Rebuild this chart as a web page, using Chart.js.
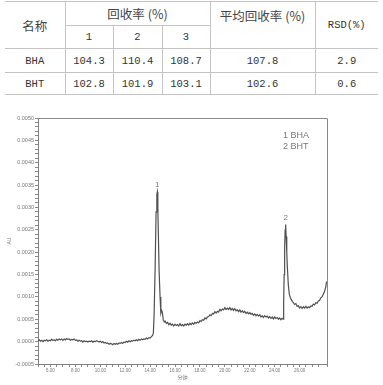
<!DOCTYPE html>
<html><head><meta charset="utf-8">
<script src="https://cdn.jsdelivr.net/npm/chart.js@4/dist/chart.umd.min.js"></script>
<style>
html,body{margin:0;padding:0;background:#fff;width:383px;height:385px;overflow:hidden;}
#tbl{position:absolute;left:5px;top:1px;width:373px;border-collapse:collapse;table-layout:fixed;font-family:"Liberation Mono",monospace;font-size:10.5px;color:#333;}
#tbl td{border:1px solid #c4c4c4;text-align:center;vertical-align:middle;padding:0;}
#tbl td.nl{border-left:none;}
#tbl td.nr{border-right:none;}
#tbl td.top{vertical-align:top;padding-top:4px;}
.cjk{font-family:"Noto Sans CJK SC",sans-serif;font-size:12.5px;color:#444;}
#wrap{position:absolute;left:0;top:100px;width:383px;height:285px;}
</style></head>
<body>
<table id="tbl">
<colgroup><col style="width:60px"><col style="width:48px"><col style="width:49px"><col style="width:48px"><col style="width:105px"><col style="width:63px"></colgroup>
<tbody id="tb"></tbody>
</table>
<div id="wrap"><canvas id="c" width="383" height="285"></canvas></div>
<script>
// ---- table data ----
const compounds = ['BHA', 'BHT'];
const recovery1 = ['104.3', '102.8'];
const recovery2 = ['110.4', '101.9'];
const recovery3 = ['108.7', '103.1'];
const recoveryMean = ['107.8', '102.6'];
const rsd = ['2.9', '0.6'];

// ---- chromatogram data (time in min, absorbance in AU) ----
const times = [
 5.0,5.1,5.2,5.3,5.4,5.5,5.6,5.7,5.8,5.9,
 6.0,6.1,6.2,6.3,6.4,6.5,6.6,6.7,6.8,6.9,
 7.0,7.1,7.2,7.3,7.4,7.5,7.6,7.7,7.8,7.9,
 8.0,8.1,8.2,8.3,8.4,8.5,8.6,8.7,8.8,8.9,
 9.0,9.1,9.2,9.3,9.4,9.5,9.6,9.7,9.8,9.9,
 10.0,10.1,10.2,10.3,10.4,10.5,10.6,10.7,10.8,10.9,
 11.0,11.1,11.2,11.3,11.4,11.5,11.6,11.7,11.8,11.9,
 12.0,12.1,12.2,12.3,12.4,12.5,12.6,12.7,12.8,12.9,
 13.0,13.1,13.2,13.3,13.4,13.5,13.6,13.7,13.8,13.9,
 14.0,14.1,14.2,
 14.26,14.32,14.40,14.48,14.54,14.58,14.62,14.67,14.72,14.80,14.86,14.92,14.98,15.06,15.14,
 15.2,15.3,15.4,15.5,15.6,15.7,15.8,15.9,16.0,16.1,
 16.2,16.3,16.4,16.5,16.6,16.7,16.8,16.9,17.0,17.1,
 17.2,17.3,17.4,17.5,17.6,17.7,17.8,17.9,18.0,18.1,
 18.2,18.3,18.4,18.5,18.6,18.7,18.8,18.9,19.0,19.1,
 19.2,19.3,19.4,19.5,19.6,19.7,19.8,19.9,20.0,20.1,
 20.2,20.3,20.4,20.5,20.6,20.7,20.8,20.9,21.0,21.1,
 21.2,21.3,21.4,21.5,21.6,21.7,21.8,21.9,22.0,22.1,
 22.2,22.3,22.4,22.5,22.6,22.7,22.8,22.9,23.0,23.1,
 23.2,23.3,23.4,23.5,23.6,23.7,23.8,23.9,24.0,24.1,
 24.2,24.3,24.4,24.5,24.6,24.68,
 24.72,24.76,24.80,24.84,24.88,24.92,24.97,25.02,25.10,25.18,25.26,25.34,25.44,
 25.5,25.6,25.7,25.8,25.9,26.0,26.1,26.2,26.3,26.4,26.5,26.6,26.7,26.8,26.9,
 27.0,27.1,27.2,27.3,27.4,27.5,27.6,27.7,27.8,27.9,28.0,28.1,28.16
];
const absorbance = [
 0.00002,0.00004,0.00001,0.00003,0.00000,0.00003,0.00002,0.00004,0.00001,0.00003,
 0.00002,0.00005,0.00003,0.00004,0.00002,0.00005,0.00003,0.00006,0.00004,0.00006,
 0.00003,0.00006,0.00004,0.00007,0.00005,0.00006,0.00003,0.00005,0.00004,0.00006,
 0.00003,0.00004,0.00001,0.00003,0.00001,0.00002,-0.00001,0.00002,0.00000,0.00001,
 -0.00001,0.00001,0.00000,0.00002,-0.00001,0.00001,0.00000,0.00002,0.00001,-0.00001,
 0.00001,-0.00002,0.00000,-0.00003,-0.00002,-0.00004,-0.00003,-0.00006,-0.00004,-0.00005,
 -0.00007,-0.00004,-0.00006,-0.00004,-0.00006,-0.00003,-0.00004,-0.00002,-0.00004,-0.00001,
 -0.00002,0.00001,-0.00001,0.00002,0.00000,0.00002,0.00001,0.00003,0.00002,0.00004,
 0.00002,0.00005,0.00003,0.00006,0.00004,0.00006,0.00005,0.00008,0.00006,0.00009,
 0.00008,0.00011,0.00014,
 0.00019,0.00060,0.00160,0.00290,0.00330,0.00335,0.00300,0.00230,0.00160,0.00100,0.00064,0.00070,0.00066,0.00048,0.00044,
 0.00046,0.00041,0.00043,0.00038,0.00041,0.00037,0.00039,0.00035,0.00039,0.00036,
 0.00038,0.00035,0.00040,0.00036,0.00038,0.00035,0.00039,0.00037,0.00040,0.00037,
 0.00041,0.00038,0.00042,0.00039,0.00043,0.00041,0.00044,0.00042,0.00047,0.00045,
 0.00049,0.00048,0.00053,0.00051,0.00055,0.00056,0.00060,0.00058,0.00063,0.00062,
 0.00067,0.00064,0.00068,0.00066,0.00072,0.00069,0.00073,0.00071,0.00076,0.00072,
 0.00075,0.00072,0.00076,0.00071,0.00074,0.00070,0.00074,0.00069,0.00071,0.00067,
 0.00071,0.00066,0.00069,0.00065,0.00068,0.00063,0.00066,0.00062,0.00065,0.00061,
 0.00063,0.00059,0.00062,0.00058,0.00061,0.00057,0.00060,0.00055,0.00058,0.00054,
 0.00058,0.00055,0.00057,0.00053,0.00056,0.00052,0.00055,0.00051,0.00055,0.00052,
 0.00054,0.00050,0.00053,0.00049,0.00052,0.00050,
 0.00090,0.00150,0.00210,0.00250,0.00262,0.00235,0.00200,0.00165,0.00125,0.00105,0.00098,0.00094,0.00089,
 0.00087,0.00083,0.00085,0.00079,0.00080,0.00075,0.00078,0.00074,0.00078,0.00075,0.00079,0.00075,0.00078,0.00076,0.00080,
 0.00079,0.00084,0.00082,0.00087,0.00086,0.00091,0.00092,0.00098,0.00100,0.00106,0.00112,0.00122,0.00134
];
const peakTimes = [14.58, 24.88];
const peakNumbers = ['1', '2'];
const legendLines = ['1 BHA', '2 BHT'];
const xTitle = '分钟';
const yTitle = 'AU';

// ---- build table ----
const tb = document.getElementById('tb');
let html = '<tr style="height:24px"><td rowspan="2" class="cjk nl">名称</td><td colspan="3" class="cjk">回收率 (%)</td>' +
  '<td rowspan="2" class="cjk top">平均回收率 (%)</td><td rowspan="2" class="nr">RSD(%)</td></tr>' +
  '<tr style="height:23px"><td>1</td><td>2</td><td>3</td></tr>';
const rowH = [24, 22];
compounds.forEach((c, i) => {
  html += '<tr style="height:' + rowH[i] + 'px"><td class="nl">' + c + '</td><td>' + recovery1[i] + '</td><td>' + recovery2[i] +
    '</td><td>' + recovery3[i] + '</td><td>' + recoveryMean[i] + '</td><td class="nr">' + rsd[i] + '</td></tr>';
});
tb.innerHTML = html;

// ---- chart ----
const framePlugin = {
  id: 'frame',
  afterDraw(chart) {
    const {ctx, chartArea: a, scales} = chart;
    ctx.save();
    ctx.strokeStyle = '#8a8a8a';
    ctx.lineWidth = 1;
    ctx.beginPath();
    ctx.moveTo(a.left, Math.round(a.top) + 0.5);
    ctx.lineTo(Math.round(a.right) + 0.5, Math.round(a.top) + 0.5);
    ctx.lineTo(Math.round(a.right) + 0.5, a.bottom);
    ctx.stroke();
    // peak numbers
    ctx.fillStyle = '#777';
    ctx.font = '8px "Liberation Sans", Arial, sans-serif';
    ctx.textAlign = 'center';
    ctx.textBaseline = 'bottom';
    peakTimes.forEach((t, k) => {
      const i = times.indexOf(t);
      const px = scales.x.getPixelForValue(t);
      const py = scales.y.getPixelForValue(absorbance[i]);
      ctx.fillText(peakNumbers[k], px, py - 3);
    });
    // legend text
    ctx.font = '9px "Liberation Sans", Arial, sans-serif';
    ctx.textAlign = 'left';
    ctx.textBaseline = 'middle';
    legendLines.forEach((s, k) => {
      ctx.fillText(s, a.right - 44, a.top + 18 + k * 10.5);
    });
    ctx.restore();
  }
};

new Chart(document.getElementById('c'), {
  type: 'line',
  data: {
    datasets: [{
      data: times.map((t, i) => ({x: t, y: absorbance[i]})),
      borderColor: '#505050',
      borderWidth: 1.2,
      pointRadius: 0,
      tension: 0,
      fill: false
    }]
  },
  options: {
    responsive: false,
    animation: false,
    devicePixelRatio: 1,
    layout: {padding: {left: 0, right: 56, top: 18, bottom: 0}},
    plugins: {legend: {display: false}, tooltip: {enabled: false}},
    scales: {
      x: {
        type: 'linear', min: 5.0, max: 28.2,
        afterFit(s) { s.height = 21; },
        ticks: {
          stepSize: 0.5, autoSkip: false, maxRotation: 0, minRotation: 0, padding: 1,
          font: {size: 4.5, family: 'Liberation Sans'}, color: '#777',
          callback(v) {
            const r = Math.round(v * 2);
            if (Math.abs(v * 2 - r) < 1e-6 && r % 4 === 0 && v >= 6) return (r / 2).toFixed(2);
            return '';
          }
        },
        grid: {drawOnChartArea: false, tickLength: 3, color: '#888'},
        border: {color: '#808080'},
        title: {display: true, text: xTitle, font: {size: 5, family: 'Noto Sans CJK SC'}, color: '#777', padding: {top: 0, bottom: 5}}
      },
      y: {
        min: -0.0005, max: 0.0050,
        afterFit(s) { s.width = 38; },
        ticks: {
          stepSize: 0.0001, autoSkip: false, padding: 1,
          font: {size: 5.5, family: 'Liberation Sans'}, color: '#777',
          callback(v) {
            const r = Math.round(v * 10000);
            if (r % 5 === 0) return (r / 10000).toFixed(4);
            return '';
          }
        },
        grid: {drawOnChartArea: false, tickLength: 3, color: '#888'},
        border: {color: '#808080'},
        title: {display: true, text: yTitle, font: {size: 5, family: 'Liberation Sans'}, color: '#777', padding: {top: 7, bottom: 0}}
      }
    }
  },
  plugins: [framePlugin]
});
</script>
</body></html>
